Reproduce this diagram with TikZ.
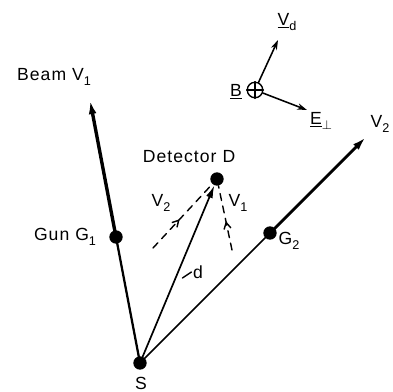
\documentclass[tikz,border=0pt]{standalone}
\usepackage{fontspec}
\setmainfont[LetterSpace=6]{Liberation Sans}
\usetikzlibrary{arrows.meta,decorations.markings,positioning}
\newcommand{\lowsub}[1]{\raisebox{-0.6ex}{\small #1}}
\tikzset{
  dot/.style={circle, fill, inner sep=0pt, minimum size=9.5pt},
  lbl/.style={font=\fontsize{12.5}{14}\selectfont, inner sep=1pt},
  midarrow/.style={line width=1pt, dash pattern=on 5pt off 4pt,
    postaction={decorate, decoration={markings,
      mark=at position 0.45 with {\arrow[solid]{Straight Barb[length=4.5pt,width=5pt]}}}}}
}
\begin{document}
\begin{tikzpicture}[x=0.025cm, y=-0.025cm, line cap=round]
        \useasboundingbox (0,0) rectangle (393,391);
        % Source, guns and detector
        \node[dot] (S) at (140,363) {};
        \node[dot] (G1) at (116,237) {};
        \node[dot] (G2) at (270,233) {};
        \node[dot] (D) at (217,179) {};
        \coordinate (beamtip) at (90,100);
        \coordinate (vtwotip) at (366,137);
        % Beams
        \draw[line width=1.6pt] (S.center) -- (G1.center);
        \draw[line width=2.4pt, -{Latex[length=10pt,width=5.5pt]}] (G1.center) -- (beamtip);
        \draw[line width=1.2pt] (S.center) -- (G2.center);
        \draw[line width=2pt, -{Latex[length=10pt,width=5.5pt]}] (G2.center) -- (vtwotip);
        \draw[line width=1.2pt, -{Latex[length=9pt,width=5pt]}] (S.center) -- (D);
        % Velocities at detector
        \coordinate (vtwofoot) at (153,248);
        \coordinate (vonefoot) at (232,250);
        \draw[midarrow] (vtwofoot) -- (D);
        \draw[midarrow] (vonefoot) -- (D);
        % Labels
        \node[lbl] at (54,77) {Beam V\lowsub{1}};
        \node[lbl] at (189,157) {Detector D};
        \node[lbl] at (65,237) {Gun G\lowsub{1}};
        \node[lbl] at (289,241) {G\lowsub{2}};
        \node[lbl] at (380,124) {V\lowsub{2}};
        \node[lbl] at (161,203) {V\lowsub{2}};
        \node[lbl] at (238,203) {V\lowsub{1}};
        \node[lbl, anchor=south] at (141,391) {S};
        \node[lbl] (dlbl) at (198,272) {d};
        \draw[line width=1pt] (dlbl.west) -- ++(-9,6);
        % Field directions
        \node[circle, draw, line width=1pt, inner sep=0pt, minimum size=11pt] (Bc) at (255,90) {};
        \draw[line width=0.8pt] (Bc.north) -- (Bc.south) (Bc.west) -- (Bc.east);
        \coordinate (vdtip) at (278,40);
        \coordinate (etip) at (307,110);
        \draw[line width=1.1pt, -{Stealth[length=7pt,width=4.5pt]}] (Bc) -- (vdtip);
        \draw[line width=1.1pt, -{Stealth[length=7pt,width=4.5pt]}] (Bc) -- (etip);
        \node[lbl] at (236,92) {\underline{B}};
        \node[lbl] at (287,22) {\underline{V}\lowsub{d}};
        \node[lbl] at (321,121) {\underline{E}\lowsub{$\perp$}};
\end{tikzpicture}
\end{document}
